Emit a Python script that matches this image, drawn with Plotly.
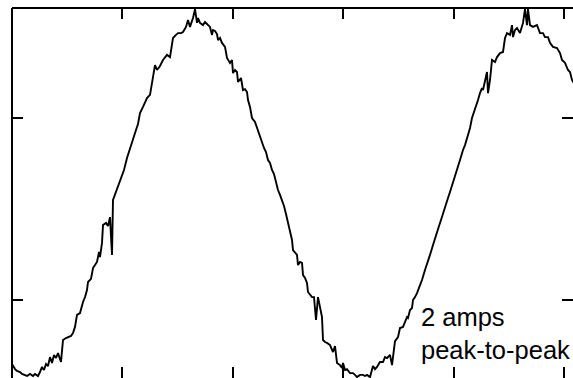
import plotly.graph_objects as go

# time (ms) and current (mA)
time_ms = [
    0.00, 0.15, 0.25, 0.40, 0.50, 0.65, 0.75, 0.90, 1.05, 1.15, 1.30, 1.40, 1.50, 1.60, 1.70, 1.80,
    1.90, 2.00, 2.10, 2.20, 2.30, 2.45, 2.50, 2.55, 2.70, 2.80, 2.95, 3.05, 3.15, 3.25, 3.40, 3.55,
    3.65, 3.75, 3.80, 3.95, 4.05, 4.15, 4.25, 4.35, 4.40, 4.50, 4.55, 4.70, 4.80, 4.90, 5.00, 5.05,
    5.20, 5.30, 5.45, 5.60, 5.75, 5.90, 6.05, 6.20, 6.30, 6.40, 6.55, 6.65, 6.75, 6.90, 7.00, 7.05,
    7.15, 7.25, 7.40, 7.55, 7.75, 7.90, 8.00, 8.05, 8.20, 8.30, 8.45, 8.55, 8.70, 8.80, 8.90, 9.05,
    9.15, 9.25, 9.30, 9.40, 9.55, 9.65, 9.75, 9.90, 10.00, 10.05, 10.15, 10.25, 10.30, 10.40, 10.50, 10.65,
    10.75, 10.90, 11.00, 11.05, 11.15, 11.25, 11.30, 11.45, 11.55, 11.65, 11.75, 11.80, 11.90, 12.00, 12.15, 12.25,
    12.35, 12.50, 12.60, 12.70, 12.80, 12.90, 13.00, 13.10, 13.20, 13.30, 13.40, 13.50, 13.60, 13.70, 13.80, 13.90,
    14.00, 14.05, 14.15, 14.25, 14.30, 14.40, 14.50, 14.55, 14.65, 14.75, 14.80, 14.90, 15.00, 15.10, 15.20, 15.30,
    15.40, 15.50, 15.55, 15.65, 15.75, 15.90, 16.05, 16.15, 16.25, 16.40, 16.50, 16.55, 16.65, 16.75, 16.90, 17.05,
    17.15, 17.25, 17.40, 17.55, 17.65, 17.75, 17.90, 18.05, 18.15, 18.25, 18.40, 18.55, 18.65, 18.75, 18.85, 18.90,
    19.00, 19.15, 19.30, 19.40, 19.55, 19.65, 19.75, 19.80, 19.90, 20.00, 20.05, 20.15, 20.25, 20.40, 20.50, 20.65,
    20.80, 20.90, 21.05, 21.15, 21.25, 21.35, 21.45, 21.55, 21.70, 21.80, 21.90, 22.05, 22.15, 22.30, 22.40, 22.55,
    22.65, 22.80, 22.90, 23.00, 23.15, 23.30, 23.40, 23.50, 23.55, 23.75, 23.80, 23.90, 24.00, 24.15, 24.25, 24.40,
    24.55, 24.65, 24.75, 24.90, 25.00, 25.05, 25.15, 25.25, 25.40, 25.50, 25.55, 25.65, 25.75, 25.80, 25.90, 26.05,
    26.25, 26.40, 26.55, 26.65, 26.80, 26.90, 27.05, 27.25, 27.40, 27.50, 27.65, 27.80, 27.90, 28.00, 28.15,
]
current_ma = [
    -352, -380, -390, -396, -407, -412, -418, -407, -418, -407, -418, -396, -368, -385, -352, -363,
    -314, -346, -302, -319, -292, -341, -248, -220, -209, -204, -198, -182, -148, -82, -72, -11,
    16, 55, 99, 116, 176, 192, 209, 264, 236, 314, 412, 424, 407, 456, 248, 550,
    594, 627, 671, 715, 781, 836, 880, 935, 968, 1028, 1062, 1089, 1111, 1128, 1188, 1226,
    1292, 1265, 1287, 1320, 1348, 1336, 1402, 1441, 1458, 1468, 1468, 1474, 1502, 1540, 1502, 1551,
    1600, 1524, 1551, 1524, 1512, 1529, 1518, 1502, 1458, 1485, 1480, 1463, 1430, 1441, 1414, 1392,
    1331, 1304, 1320, 1248, 1265, 1254, 1199, 1221, 1155, 1160, 1144, 1100, 1062, 1001, 979, 946,
    918, 874, 836, 814, 770, 754, 715, 693, 644, 605, 578, 550, 517, 473, 429, 385,
    330, 275, 264, 248, 192, 209, 204, 138, 121, 94, 44, 28, 16, 16, -110, 16,
    -38, -94, -220, -231, -236, -248, -286, -253, -346, -358, -374, -346, -385, -380, -402, -402,
    -412, -424, -412, -412, -418, -412, -424, -363, -380, -368, -341, -341, -314, -319, -308, -302,
    -358, -226, -204, -154, -148, -121, -94, -99, -55, -44, 0, 16, 38, 82, 110, 165,
    209, 248, 302, 341, 374, 407, 440, 478, 522, 561, 594, 644, 682, 737, 770, 825,
    852, 908, 946, 1001, 1045, 1100, 1138, 1166, 1155, 1254, 1138, 1210, 1320, 1309, 1336, 1358,
    1364, 1441, 1468, 1458, 1512, 1446, 1485, 1496, 1468, 1502, 1524, 1600, 1512, 1600, 1512, 1502,
    1512, 1468, 1468, 1446, 1446, 1414, 1392, 1386, 1358, 1320, 1304, 1265, 1254, 1210, 1182,
]

label_lines = ["2 amps", "peak-to-peak"]

fig = go.Figure()
fig.add_trace(go.Scatter(
    x=time_ms, y=current_ma, mode="lines",
    line=dict(color="black", width=1.9), hoverinfo="skip", showlegend=False,
))

fig.update_layout(
    width=573, height=378,
    margin=dict(l=12, r=0, t=8, b=0),
    paper_bgcolor="white", plot_bgcolor="white",
    font=dict(family="Liberation Sans, Arial, sans-serif", color="black"),
    xaxis=dict(
        range=[0, 28.05], tick0=0, dtick=5.52, side="top",
        showgrid=False, zeroline=False, showline=False, showticklabels=False,
        ticks="inside", ticklen=11, tickwidth=2, tickcolor="black", mirror="ticks",
    ),
    yaxis=dict(
        range=[-429, 1606], tick0=0, dtick=1000,
        showgrid=False, zeroline=False, showline=False, showticklabels=False,
        ticks="inside", ticklen=11, tickwidth=2, tickcolor="black", mirror="ticks",
    ),
    shapes=[
        dict(type="line", xref="paper", yref="paper", x0=0, x1=0, y0=0, y1=1,
             line=dict(color="black", width=2)),
        dict(type="line", xref="paper", yref="paper", x0=0, x1=1, y0=1, y1=1,
             line=dict(color="black", width=2)),
    ],
    annotations=[dict(
        x=20.35, y=-5, xref="x", yref="y", xanchor="left", yanchor="top",
        text="<br>".join(label_lines), showarrow=False, align="left",
        font=dict(size=25.5, color="black", family="Liberation Sans, Arial, sans-serif"),
    )],
)

fig.write_html("out.html")
